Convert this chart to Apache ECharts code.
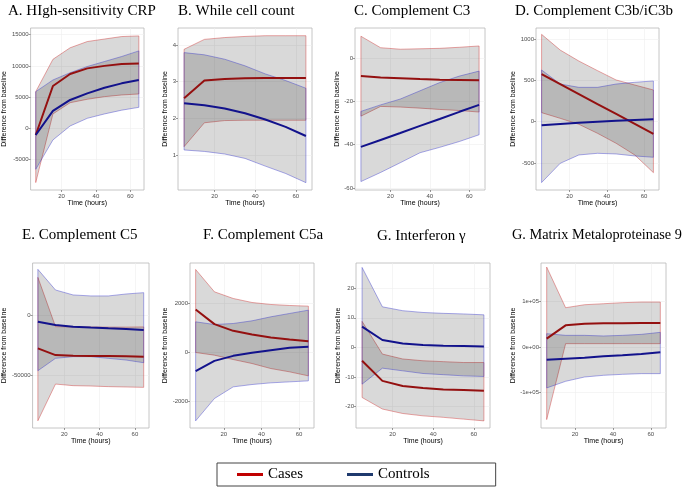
<!DOCTYPE html>
<html><head><meta charset="utf-8">
<script src="https://cdn.jsdelivr.net/npm/echarts@6/dist/echarts.min.js"></script>
<style>html,body{margin:0;padding:0;background:#fff}#c{width:684px;height:489px}</style>
</head><body><div id="c"></div>
<script>
const hours = [5, 15, 25, 35, 45, 55, 65];
const xTicks = [20, 40, 60];
const panelTitles = ['A. HIgh-sensitivity CRP', 'B. While cell count', 'C. Complement C3', 'D. Complement C3b/iC3b',
  'E. Complement C5', 'F. Complement C5a', 'G. Interferon \u03b3', 'G. Matrix Metaloproteinase 9'];
const seriesNames = ['Cases', 'Controls'];

// A. hs-CRP
const aCasesMean = [-1070, 6780, 8700, 9600, 10000, 10300, 10400];
const aCasesLo = [-8700, 2300, 4100, 4650, 5070, 5340, 5500];
const aCasesHi = [5870, 11050, 12900, 13900, 14300, 14700, 14800];
const aCtrlMean = [-1070, 2780, 4540, 5600, 6500, 7200, 7740];
const aCtrlLo = [-6570, -1870, 370, 1600, 2300, 2900, 3360];
const aCtrlHi = [5870, 7740, 8900, 9900, 10700, 11500, 12400];
const aTicks = [-5000, 0, 5000, 10000, 15000];
// B. White cell count
const bCasesMean = [2.55, 3.03, 3.07, 3.09, 3.1, 3.1, 3.1];
const bCasesLo = [1.23, 1.88, 1.94, 1.95, 1.95, 1.95, 1.95];
const bCasesHi = [3.88, 4.15, 4.2, 4.23, 4.25, 4.25, 4.25];
const bCtrlMean = [2.41, 2.36, 2.27, 2.14, 1.97, 1.77, 1.52];
const bCtrlLo = [1.14, 1.1, 1.03, 0.91, 0.7, 0.5, 0.25];
const bCtrlHi = [3.79, 3.73, 3.61, 3.43, 3.21, 3.03, 2.82];
const bTicks = [1, 2, 3, 4];
// C. C3
const cCasesMean = [-8.3, -8.9, -9.3, -9.7, -10, -10.1, -10.2];
const cCasesLo = [-26.8, -22.3, -22.6, -23.1, -23.7, -24.2, -24.9];
const cCasesHi = [10.1, 4.8, 4.1, 4.3, 4.5, 5, 5.6];
const cCtrlMean = [-41, -37.8, -34.6, -31.3, -28.1, -24.8, -21.6];
const cCtrlLo = [-57, -52.8, -48.3, -43.7, -41.2, -38.5, -35.4];
const cCtrlHi = [-24.6, -21.6, -18.9, -15.1, -11.3, -8.3, -6];
const cTicks = [-60, -40, -20, 0];
// D. C3b/iC3b
const dCasesMean = [576, 455, 334, 213, 93, -28, -149];
const dCasesLo = [109, 40, -32, -141, -262, -403, -617];
const dCasesHi = [1056, 866, 733, 617, 504, 443, 383];
const dCtrlMean = [-44, -28, -12, 0, 12, 20, 28];
const dCtrlLo = [-737, -504, -403, -383, -391, -415, -431];
const dCtrlHi = [625, 455, 415, 415, 455, 476, 492];
const dTicks = [-500, 0, 500, 1000];
// E. C5
const eCasesMean = [-27500, -33000, -33500, -33800, -33800, -34000, -34300];
const eCasesLo = [-87100, -56900, -58200, -58500, -59000, -59300, -59600];
const eCasesHi = [31000, -9600, -9800, -9900, -10000, -10000, -9800];
const eCtrlMean = [-5500, -8200, -9600, -10400, -11000, -11500, -12400];
const eCtrlLo = [-45900, -35700, -34300, -34300, -35700, -37100, -39300];
const eCtrlHi = [37600, 20600, 16500, 15700, 15700, 17300, 18400];
const eTicks = [-50000, 0];
// F. C5a
const fCasesMean = [1750, 1153, 881, 732, 610, 529, 461];
const fCasesLo = [0, -108, -285, -447, -651, -786, -949];
const fCasesHi = [3376, 2468, 2197, 2034, 1953, 1912, 1885];
const fCtrlMean = [-759, -339, -136, -14, 95, 190, 230];
const fCtrlLo = [-2780, -1871, -1397, -1302, -1234, -1193, -1153];
const fCtrlHi = [1248, 1139, 1180, 1288, 1451, 1587, 1722];
const fTicks = [-2000, 0, 2000];
// G. Interferon gamma
const gCasesMean = [-4.5, -11.3, -13, -13.7, -14.2, -14.4, -14.6];
const gCasesLo = [-16.9, -20.8, -22.3, -23.1, -23.6, -24.2, -24.8];
const gCasesHi = [8.8, -2.25, -3.9, -4.5, -4.8, -5.1, -5.1];
const gCtrlMean = [7, 2.5, 1.35, 0.8, 0.56, 0.45, 0.34];
const gCtrlLo = [-12.4, -7, -7.9, -8.8, -9.2, -9.6, -9.8];
const gCtrlHi = [27, 13.7, 12.4, 11.8, 11.5, 11.3, 11];
const gTicks = [-20, -10, 0, 10, 20];
// H. MMP-9
const hCasesMean = [18400, 47800, 51400, 52200, 52200, 52900, 52900];
const hCasesLo = [-160200, 7350, 7350, 7350, 7350, 7350, 7350];
const hCasesHi = [176400, 86700, 93300, 95500, 97800, 99200, 99200];
const hCtrlMean = [-27900, -25700, -23500, -20600, -18400, -15400, -11800];
const hCtrlLo = [-90400, -75700, -66200, -62500, -60300, -58800, -58800];
const hCtrlHi = [29400, 25700, 25700, 24300, 25700, 27900, 32300];
const hTicks = [-100000, 0, 100000];

const panels = [
  [aCasesMean, aCasesLo, aCasesHi, aCtrlMean, aCtrlLo, aCtrlHi, aTicks],
  [bCasesMean, bCasesLo, bCasesHi, bCtrlMean, bCtrlLo, bCtrlHi, bTicks],
  [cCasesMean, cCasesLo, cCasesHi, cCtrlMean, cCtrlLo, cCtrlHi, cTicks],
  [dCasesMean, dCasesLo, dCasesHi, dCtrlMean, dCtrlLo, dCtrlHi, dTicks],
  [eCasesMean, eCasesLo, eCasesHi, eCtrlMean, eCtrlLo, eCtrlHi, eTicks],
  [fCasesMean, fCasesLo, fCasesHi, fCtrlMean, fCtrlLo, fCtrlHi, fTicks],
  [gCasesMean, gCasesLo, gCasesHi, gCtrlMean, gCtrlLo, gCtrlHi, gTicks],
  [hCasesMean, hCasesLo, hCasesHi, hCtrlMean, hCtrlLo, hCtrlHi, hTicks]
];

// layout (pixels): [left, top, width, height], y-axis range, y-name gap, title pos
const gridRects = [[24, 28, 120, 162], [178, 28, 134, 162], [355, 28, 130, 162], [536, 28, 123, 162],
  [26, 263, 123, 165], [190, 263, 124, 165], [356, 263, 134, 165], [541, 263, 125, 165]];
const yRanges = [[-9890, 16070], [0.05, 4.46], [-60.9, 13.9], [-827, 1133],
  [-93080, 42830], [-3070, 3640], [-27.2, 28.5], [-178800, 185400]];
const yNameGaps = [13, 7, 10, 11, 17, 18, 9, 14];
const titlePos = [[8, 4], [178, 4], [354, 4], [515, 4], [22, 228], [203, 228], [377, 229], [512, 228]];
const titleSizes = [15, 15, 15, 15, 15, 15, 15, 14.3];

function sciLabel(v) {
  if (v === 0) return '0e+00';
  const e = Math.floor(Math.log10(Math.abs(v)) + 1e-9);
  const m = Math.round(v / Math.pow(10, e));
  return m + 'e' + (e < 0 ? '-' : '+') + String(Math.abs(e)).padStart(2, '0');
}

const CASE_LINE = '#941010', CTRL_LINE = '#12128c';
const CASE_EDGE = 'rgba(205,40,40,0.6)', CTRL_EDGE = 'rgba(50,50,205,0.6)';
const FILL = 'rgba(0,0,0,0.15)';
const SANS = 'Liberation Sans', SERIF = 'Liberation Serif';

const grids = [], xAxes = [], yAxes = [], titles = [], series = [];

function band(i, lo, hi, edge) {
  series.push({
    type: 'custom', xAxisIndex: i, yAxisIndex: i, silent: true, z: 2, clip: true,
    data: hours.map((h, k) => [h, lo[k], hi[k]]),
    encode: { x: 0, y: [1, 2] },
    renderItem: function (params, api) {
      if (params.dataIndex !== 0) return null;
      const top = hours.map((h, k) => api.coord([h, hi[k]]));
      const bot = hours.map((h, k) => api.coord([h, lo[k]])).reverse();
      return { type: 'polygon', shape: { points: top.concat(bot) },
        style: { fill: FILL, stroke: edge, lineWidth: 0.7 } };
    }
  });
}

panels.forEach((p, i) => {
  const [cm, cl, ch, km, kl, kh, ticks] = p;
  const r = gridRects[i];
  grids.push({ left: r[0], top: r[1], width: r[2], height: r[3], show: true,
    borderColor: '#b8b8b8', borderWidth: 0.8, backgroundColor: '#fff', containLabel: false });
  xAxes.push({ type: 'value', gridIndex: i, min: 2, max: 68, position: 'bottom',
    name: 'Time (hours)', nameLocation: 'middle', nameGap: 9,
    nameTextStyle: { fontFamily: SANS, fontSize: 7, color: '#000' },
    axisLine: { show: false, onZero: false },
    axisTick: { show: true, length: 2, customValues: xTicks, lineStyle: { color: '#555', width: 0.6 } },
    axisLabel: { customValues: xTicks, fontFamily: SANS, fontSize: 6, color: '#4d4d4d', margin: 3, formatter: v => String(v) },
    splitLine: { show: true, lineStyle: { color: '#efefef', width: 0.6 } }
  });
  yAxes.push({ type: 'value', gridIndex: i, min: yRanges[i][0], max: yRanges[i][1], position: 'left',
    name: 'Difference from baseline', nameLocation: 'middle', nameGap: yNameGaps[i], nameRotate: 90,
    nameTextStyle: { fontFamily: SANS, fontSize: 7, color: '#000' },
    axisLine: { show: false, onZero: false },
    axisTick: { show: true, length: 2, customValues: ticks, lineStyle: { color: '#555', width: 0.6 } },
    axisLabel: { customValues: ticks, fontFamily: SANS, fontSize: 6, color: '#4d4d4d', margin: 2,
      formatter: i === 7 ? sciLabel : (v => String(v)) },
    splitLine: { show: true, lineStyle: { color: '#efefef', width: 0.6 } }
  });
  titles.push({ text: panelTitles[i], left: titlePos[i][0], top: titlePos[i][1], padding: 0,
    textStyle: { fontFamily: SERIF, fontSize: titleSizes[i], fontWeight: 'normal', color: '#000' } });
  band(i, cl, ch, CASE_EDGE);
  band(i, kl, kh, CTRL_EDGE);
  series.push({ type: 'line', name: seriesNames[0], xAxisIndex: i, yAxisIndex: i, symbol: 'none', z: 5,
    color: CASE_LINE, data: hours.map((h, k) => [h, cm[k]]), lineStyle: { color: CASE_LINE, width: 2 } });
  series.push({ type: 'line', name: seriesNames[1], xAxisIndex: i, yAxisIndex: i, symbol: 'none', z: 5,
    color: CTRL_LINE, data: hours.map((h, k) => [h, km[k]]), lineStyle: { color: CTRL_LINE, width: 2 } });
});

const chart = echarts.init(document.getElementById('c'), null, { renderer: 'canvas' });
chart.setOption({
  animation: false,
  backgroundColor: '#fff',
  title: titles,
  grid: grids,
  xAxis: xAxes,
  yAxis: yAxes,
  legend: {
    data: [{ name: seriesNames[0], itemStyle: { color: '#c00000' } }, { name: seriesNames[1], itemStyle: { color: '#1f3a6e' } }],
    left: 217, top: 463, icon: 'rect', itemWidth: 26, itemHeight: 3, itemGap: 44,
    padding: [4, 66, 4, 20], borderColor: '#444', borderWidth: 1, selectedMode: false,
    textStyle: { fontFamily: SERIF, fontSize: 15, color: '#000' }
  },
  series: series
});
</script>
</body></html>
